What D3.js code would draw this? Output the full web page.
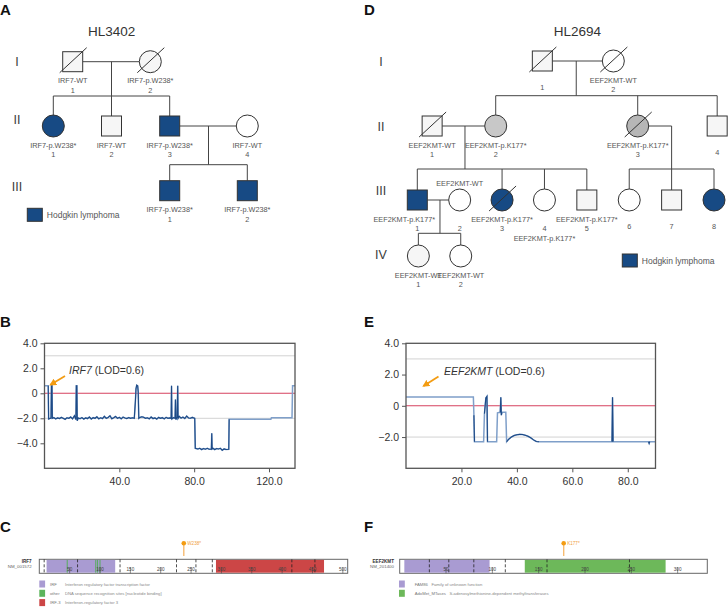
<!DOCTYPE html>
<html><head><meta charset="utf-8">
<script src="https://cdn.jsdelivr.net/npm/d3@7"></script>
<style>body{margin:0;background:#fff}svg{display:block;font-family:"Liberation Sans",Arial,Helvetica,sans-serif}</style>
</head><body><svg id="c" width="728" height="607"></svg>
<script>
// ---------------- DATA ----------------
const famA_title = "HL3402";
const famA_people = [
  {id:"I-1", gen:"I", col:1, sex:"M", status:"unaffected", dead:true, geno:"IRF7-WT", num:"1"},
  {id:"I-2", gen:"I", col:5, sex:"F", status:"unaffected", dead:true, geno:"IRF7-p.W238*", num:"2"},
  {id:"II-1", gen:"II", col:0, sex:"F", status:"affected", dead:false, geno:"IRF7-p.W238*", num:"1"},
  {id:"II-2", gen:"II", col:3, sex:"M", status:"unaffected", dead:false, geno:"IRF7-WT", num:"2"},
  {id:"II-3", gen:"II", col:6, sex:"M", status:"affected", dead:false, geno:"IRF7-p.W238*", num:"3"},
  {id:"II-4", gen:"II", col:10, sex:"F", status:"unaffectedW", dead:false, geno:"IRF7-WT", num:"4"},
  {id:"III-1", gen:"III", col:6, sex:"M", status:"affected", dead:false, geno:"IRF7-p.W238*", num:"1"},
  {id:"III-2", gen:"III", col:10, sex:"M", status:"affected", dead:false, geno:"IRF7-p.W238*", num:"2"}
];
const famA_families = [
  {parents:["I-1","I-2"], dropCol:3, children:["II-1","II-2","II-3"]},
  {parents:["II-3","II-4"], dropCol:8, children:["III-1","III-2"]}
];
const famD_title = "HL2694";
const famD_people = [
  {id:"I-1", gen:"I", col:5.9, sex:"M", status:"unaffected", dead:true, geno:"", num:"1"},
  {id:"I-2", gen:"I", col:9.25, sex:"F", status:"unaffectedW", dead:true, geno:"EEF2KMT-WT", num:"2"},
  {id:"II-1", gen:"II", col:0.7, sex:"M", status:"unaffected", dead:true, geno:"EEF2KMT-WT", num:"1"},
  {id:"II-2", gen:"II", col:3.7, sex:"F", status:"carrier", dead:false, geno:"EEF2KMT-p.K177*", num:"2"},
  {id:"II-3", gen:"II", col:10.4, sex:"F", status:"carrier2", dead:true, geno:"EEF2KMT-p.K177*", num:"3"},
  {id:"II-4", gen:"II", col:14.15, sex:"M", status:"unaffected", dead:false, geno:"", num:"4"},
  {id:"III-1", gen:"III", col:0, sex:"M", status:"affected", dead:false, geno:"EEF2KMT-p.K177*", num:"1", place:"belowLeft"},
  {id:"III-2", gen:"III", col:2, sex:"F", status:"unaffectedW", dead:false, geno:"EEF2KMT-WT", num:"2", place:"above"},
  {id:"III-3", gen:"III", col:4, sex:"F", status:"affected", dead:true, geno:"EEF2KMT-p.K177*", num:"3"},
  {id:"III-4", gen:"III", col:6, sex:"F", status:"unaffectedW", dead:false, geno:"EEF2KMT-p.K177*", num:"4", place:"belowNum"},
  {id:"III-5", gen:"III", col:8, sex:"M", status:"unaffected", dead:false, geno:"EEF2KMT-p.K177*", num:"5"},
  {id:"III-6", gen:"III", col:10, sex:"F", status:"unaffectedW", dead:false, geno:"", num:"6"},
  {id:"III-7", gen:"III", col:12, sex:"M", status:"unaffected", dead:false, geno:"", num:"7"},
  {id:"III-8", gen:"III", col:14, sex:"F", status:"affected", dead:false, geno:"", num:"8"},
  {id:"IV-1", gen:"IV", col:0.05, sex:"F", status:"unaffected", dead:false, geno:"EEF2KMT-WT", num:"1"},
  {id:"IV-2", gen:"IV", col:2.05, sex:"F", status:"unaffectedW", dead:false, geno:"EEF2KMT-WT", num:"2"}
];
const famD_families = [
  {parents:["I-1","I-2"], dropCol:7.5, children:["II-2","II-3","II-4"]},
  {parents:["II-1","II-2"], dropCol:2.25, children:["III-1","III-3","III-4","III-5"]},
  {parents:["II-3"], dropCol:12, children:["III-6","III-7","III-8"]},
  {parents:["III-1","III-2"], dropCol:1.07, children:["IV-1","IV-2"]}
];
const legendLabel = "Hodgkin lymphoma";

// LOD score traces (cM, LOD)
const lodB_cM  = [0,2.0,2.2,3.5,3.7,4.0,4.2,5,6,7,8,9,10,11,12,13,14,15,16,16.8,17.0,17.3,17.5,18,19,20,21,22,23,24,25,26,27,28,29,30,31,32,33,34,35,36,37,38,39,40,41,42,43,44,45,46,47,48,48.6,48.9,49.3,49.8,50.1,50.4,51,52,53,54,55,56,57,58,59,60,61,62,63,64,65,66,67,67.7,67.9,68.1,69,69.8,70.0,70.2,70.9,71.2,71.4,72,73,74,75,76,77,78,79,80.3,80.6,82,83,84,85,86,87,88,89.2,89.4,89.6,90,91,92,93,94,95,96,97,98.5,98.7,121,121.3,132.3,132.6,133.9];
const lodB_val = [0.6,0.6,-2.05,-1.98,0.6,0.6,-2.0,-1.95,-2.05,-1.97,-2.02,-1.93,-2.0,-2.08,-1.96,-2.0,-1.9,-2.04,-1.8,-2.1,0.6,0.6,-2.2,-1.98,-2.03,-1.94,-2.06,-1.97,-2.02,-1.9,-2.05,-1.95,-2.0,-1.88,-2.04,-1.96,-2.02,-1.85,-2.0,-1.93,-1.8,-2.03,-1.95,-1.85,-2.0,-1.92,-2.04,-1.9,-1.97,-2.02,-1.94,-2.0,-1.96,-2.0,-0.6,0.35,0.65,0.6,0.1,-2.0,-1.93,-1.88,-1.92,-2.0,-1.96,-2.04,-1.9,-2.02,-1.97,-2.06,-1.93,-2.0,-1.95,-2.05,-1.92,-2.0,-1.97,-2.0,0.6,-2.05,-1.95,-2.0,-0.5,-2.1,-1.9,0.6,-2.0,-1.85,-1.98,-1.9,-2.02,-1.82,-1.97,-2.0,-1.93,-2.0,-4.4,-4.45,-4.4,-4.5,-4.42,-4.47,-4.4,-4.48,-4.45,-3.2,-4.45,-4.4,-4.5,-4.42,-4.45,-4.4,-4.55,-4.45,-4.5,-4.48,-2.08,-2.08,-1.95,-1.95,0.6,0.6];
const lodE_cM  = [0,24.3,24.5,24.7,28,28.3,28.8,29.2,29.4,32.7,33,34,34.2,34.4,34.6,36,36.3,37,38,39,40,41,42,43,44,45,46,47,48,74.3,74.5,74.7,87.5,87.7,87.9,90];
const lodE_val = [0.57,0.57,-0.6,-2.3,-2.3,-0.5,0.5,0.6,-2.3,-2.3,-0.45,-0.42,0.55,-0.6,-0.42,-0.42,-2.3,-2.15,-2.0,-1.9,-1.85,-1.83,-1.84,-1.88,-1.95,-2.05,-2.18,-2.28,-2.3,-2.3,0.55,-2.3,-2.3,-2.4,-2.3,-2.3];
const yTicksB = [4,2,0,-2,-4];
const xTicksB = [40,80,120];
const yTicksE = [4,2,0,-2];
const xTicksE = [20,40,60,80];
const thresholds = [3,-2];
const geneB = "IRF7", geneE = "EEF2KMT", lodText = " (LOD=0.6)";

// Protein lollipop data
const protC = {gene:"IRF7", tx:"NM_001572", length:508, mut:238, mutLabel:"W238*"};
const protC_domains = [{name:"IRF", start:12, end:125}, {name:"IRF-3", start:291, end:469}];
const protC_sites = [46, 93, 96, 100];
const protC_exons = [8, 63, 133, 226, 258, 285, 416, 454];
const protC_ticks = [50,100,150,200,250,300,350,400,450,500];
const protC_legend = [["IRF","Interferon regulatory factor transcription factor"],["other","DNA sequence recognition sites [nucleotide binding]"],["IRF-3","Interferon-regulatory factor 3"]];
const protF = {gene:"EEF2KMT", tx:"NM_201400", length:332, mut:177, mutLabel:"K177*"};
const protF_domains = [{name:"FAM86", start:5, end:97}, {name:"AdoMet_MTases", start:135, end:287}];
const protF_exons = [32, 53, 80, 114, 159, 248];
const protF_ticks = [50,100,150,200,250,300];
const protF_legend = [["FAM86","Family of unknown function"],["AdoMet_MTases","S-adenosylmethionine-dependent methyltransferases"]];

// ---------------- DRAW ----------------
const svg = d3.select("#c");
const BLUE = "#174a84";
const fills = {affected:BLUE, carrier:"#c8c8c8", carrier2:"#b6b6b6", unaffected:"#f6f6f6", unaffectedW:"#ffffff"};

function panelLetter(t,x,y){ svg.append("text").attr("x",x).attr("y",y).attr("font-size",15).attr("font-weight","bold").attr("fill","#111").text(t); }
panelLetter("A",0,15); panelLetter("D",364,15);
panelLetter("B",0,327); panelLetter("E",364,327);
panelLetter("C",0,532); panelLetter("F",364,532);

function drawPedigree(people, families, xs, gy, sibY, title, titleX, romanX, legendPos, romanShift){
  const g = svg.append("g");
  const byId = new Map(people.map(p=>[p.id,p]));
  const half = p => p.sex==="M" ? 10 : 11;
  g.append("text").attr("x",titleX).attr("y",36).attr("text-anchor","middle").attr("font-size",13.5).attr("fill","#333").text(title);
  const gens = Array.from(new Set(people.map(p=>p.gen)));
  gens.forEach(gn=>{
    g.append("text").attr("x",romanX).attr("y",gy(gn)+4.5+(romanShift[gn]||0)).attr("text-anchor","middle")
      .attr("font-size",12.5).attr("fill","#3a3a3a").text(gn);
  });
  const L = g.append("g").attr("stroke","#444").attr("stroke-width",1).attr("fill","none");
  families.forEach(f=>{
    const ps = f.parents.map(id=>byId.get(id)).sort((a,b)=>a.col-b.col);
    const py = gy(ps[0].gen);
    const dx = xs(f.dropCol);
    if(ps.length===2){
      L.append("line").attr("x1",xs(ps[0].col)+half(ps[0])).attr("x2",xs(ps[1].col)-half(ps[1])).attr("y1",py).attr("y2",py);
    } else {
      L.append("line").attr("x1",xs(ps[0].col)+half(ps[0])).attr("x2",dx).attr("y1",py).attr("y2",py);
    }
    const kids = f.children.map(id=>byId.get(id));
    const sy = sibY(kids[0].gen);
    L.append("line").attr("x1",dx).attr("x2",dx).attr("y1",py).attr("y2",sy);
    const xsK = kids.map(k=>xs(k.col)).concat([dx]);
    L.append("line").attr("x1",d3.min(xsK)).attr("x2",d3.max(xsK)).attr("y1",sy).attr("y2",sy);
    kids.forEach(k=>{
      L.append("line").attr("x1",xs(k.col)).attr("x2",xs(k.col)).attr("y1",sy).attr("y2",gy(k.gen)-half(k));
    });
  });
  const S = g.append("g");
  people.forEach(p=>{
    const cx = xs(p.col), cy = gy(p.gen);
    if(p.sex==="M"){
      S.append("rect").attr("x",cx-10).attr("y",cy-10).attr("width",20).attr("height",20)
        .attr("fill",fills[p.status]).attr("stroke","#333").attr("stroke-width",1);
    } else {
      S.append("circle").attr("cx",cx).attr("cy",cy).attr("r",11)
        .attr("fill",fills[p.status]).attr("stroke","#333").attr("stroke-width",1);
    }
    if(p.dead){
      S.append("line").attr("x1",cx-13).attr("y1",cy+11).attr("x2",cx+14).attr("y2",cy-14).attr("stroke","#333").attr("stroke-width",1);
    }
    const T = S.append("g").attr("font-size",7.3).attr("fill","#555").attr("text-anchor","middle");
    let gx = cx, gyy = cy+21.5, ny = cy+31;
    if(p.place==="above"){ gyy = cy-14.5; }
    if(p.place==="belowLeft"){ gx = cx-13; }
    if(p.place==="belowNum"){ gyy = cy+41; }
    if(!p.geno){ ny = cy+29; }
    if(p.geno) T.append("text").attr("x",gx).attr("y",gyy).text(p.geno);
    T.append("text").attr("x",cx).attr("y",ny).text(p.num);
  });
  g.append("rect").attr("x",legendPos[0]).attr("y",legendPos[1]).attr("width",15).attr("height",13)
    .attr("fill",BLUE).attr("stroke","#333").attr("stroke-width",1);
  g.append("text").attr("x",legendPos[0]+19.5).attr("y",legendPos[1]+9.5).attr("font-size",8.5).attr("fill","#555").text(legendLabel);
}

// Pedigree A
{
  const xs = d3.scaleLinear().domain([0,10]).range([53.3,247.3]);
  const gy = d3.scaleOrdinal().domain(["I","II","III"]).range([61.7,126,190.7]);
  const sib = d3.scaleOrdinal().domain(["II","III"]).range([96,164.7]);
  drawPedigree(famA_people, famA_families, xs, gy, sib, famA_title, 111.7, 17, [27.3,208.3], {II:-6.5, III:-4});
}
// Pedigree D
{
  const xs = d3.scaleLinear().domain([0,14]).range([417.3,714]);
  const gy = d3.scaleOrdinal().domain(["I","II","III","IV"]).range([61,126,200,256]);
  const sib = d3.scaleOrdinal().domain(["II","III","IV"]).range([95.7,169,233.3]);
  drawPedigree(famD_people, famD_families, xs, gy, sib, famD_title, 577.3, 381, [622.3,254], {III:-10, IV:-2});
}

// Arrow marker
svg.append("defs").append("marker").attr("id","arr").attr("viewBox","0 0 10 10").attr("refX",8).attr("refY",5)
  .attr("markerWidth",4).attr("markerHeight",4).attr("orient","auto")
  .append("path").attr("d","M0,0L10,5L0,10z").attr("fill","#f39c12");

function lodChart(cm, val, xDom, xRange, yDom, yTicks, xTicks, gene, arrow, labelPos, darkRanges){
  const g = svg.append("g");
  const x = d3.scaleLinear().domain(xDom).range(xRange);
  const y = d3.scaleLinear().domain(yDom).range([468.3,343.3]);
  const fmt = d => d===0 ? "0" : d3.format(".1f")(d);
  thresholds.forEach(t=>{
    g.append("line").attr("x1",xRange[0]).attr("x2",xRange[1]).attr("y1",y(t)).attr("y2",y(t)).attr("stroke","#d2d2d2").attr("stroke-width",1);
  });
  g.append("line").attr("x1",xRange[0]).attr("x2",xRange[1]).attr("y1",y(0)).attr("y2",y(0)).attr("stroke","#d6425f").attr("stroke-width",1.1);
  const pts = cm.map((c,i)=>[c,val[i]]);
  const line = d3.line().x(d=>x(d[0])).y(d=>y(d[1]));
  g.append("path").attr("d",line(pts)).attr("fill","none").attr("stroke","#7f9fc9").attr("stroke-width",1.5);
  darkRanges.forEach(r=>{
    const sub = pts.filter(d=>d[0]>=r[0] && d[0]<=r[1]);
    g.append("path").attr("d",line(sub)).attr("fill","none").attr("stroke","#1d4a86").attr("stroke-width",1.1);
  });
  g.append("rect").attr("x",xRange[0]).attr("y",343.3).attr("width",xRange[1]-xRange[0]).attr("height",125)
    .attr("fill","none").attr("stroke","#555").attr("stroke-width",1.3);
  const ya = g.append("g").attr("transform",`translate(${xRange[0]},0)`)
    .call(d3.axisLeft(y).tickValues(yTicks).tickSize(4).tickPadding(3).tickFormat(fmt));
  const xa = g.append("g").attr("transform",`translate(0,468.3)`)
    .call(d3.axisBottom(x).tickValues(xTicks).tickSize(4).tickPadding(5).tickFormat(d3.format(".1f")));
  [ya,xa].forEach(a=>{
    a.select(".domain").remove();
    a.selectAll("line").attr("stroke","#555");
    a.selectAll("text").attr("font-size",10.5).attr("fill","#333").attr("font-family","'Liberation Sans',Arial,sans-serif");
  });
  g.append("line").attr("x1",arrow[0]).attr("y1",arrow[1]).attr("x2",arrow[2]).attr("y2",arrow[3])
    .attr("stroke","#f39c12").attr("stroke-width",1.8).attr("marker-end","url(#arr)");
  const t = g.append("text").attr("x",labelPos[0]).attr("y",labelPos[1]).attr("font-size",10.5).attr("fill","#333");
  t.append("tspan").attr("font-style","italic").text(gene);
  t.append("tspan").text(lodText);
}
lodChart(lodB_cM, lodB_val, [0,133.9], [44.5,295], [-6,4], yTicksB, xTicksB, geneB, [65,376,50.5,384.8], [69,374], [[2,98.7]]);
lodChart(lodE_cM, lodE_val, [0,90], [406,655.5], [-4,4], yTicksE, xTicksE, geneE, [438.5,376.5,423.5,386], [444,375], [[24.4,24.7],[28.3,29.4],[33.8,34.6],[36.3,48],[74.3,74.7],[87.5,87.9]]);

function protein(p, domains, sites, exons, ticks, legend, colors, range, labelX, legendX, nameX, descX){
  const g = svg.append("g");
  const x = d3.scaleLinear().domain([0,p.length]).range(range);
  const y0 = 559.3, h = 14;
  g.append("rect").attr("x",range[0]).attr("y",y0).attr("width",range[1]-range[0]).attr("height",h)
    .attr("fill","#fff").attr("stroke","#666").attr("stroke-width",1);
  domains.forEach((d,i)=>{
    g.append("rect").attr("x",x(d.start)).attr("y",y0+0.6).attr("width",x(d.end)-x(d.start)).attr("height",h-1.2).attr("fill",colors[d.name]);
  });
  sites.forEach(s=>{
    g.append("line").attr("x1",x(s)).attr("x2",x(s)).attr("y1",y0+0.6).attr("y2",y0+h-0.6).attr("stroke","#4caf50").attr("stroke-width",0.9);
  });
  exons.forEach(e=>{
    g.append("line").attr("x1",x(e)).attr("x2",x(e)).attr("y1",y0).attr("y2",y0+h).attr("stroke","#222").attr("stroke-width",0.8).attr("stroke-dasharray","3,2");
  });
  ticks.forEach(t=>{
    g.append("line").attr("x1",x(t)).attr("x2",x(t)).attr("y1",y0+h-6).attr("y2",y0+h).attr("stroke","#444").attr("stroke-width",0.6);
    g.append("text").attr("x",x(t)).attr("y",y0+11.5).attr("text-anchor","middle").attr("font-size",4.6).attr("fill","#444").text(t);
  });
  g.append("text").attr("x",labelX).attr("y",562.5).attr("text-anchor","end").attr("font-size",4.6).attr("font-weight","bold").attr("fill","#333").text(p.gene);
  g.append("text").attr("x",labelX).attr("y",568).attr("text-anchor","end").attr("font-size",4.4).attr("fill","#666").text(p.tx);
  const mx = x(p.mut);
  g.append("line").attr("x1",mx).attr("x2",mx).attr("y1",545).attr("y2",556).attr("stroke","#f7bc72").attr("stroke-width",1.4);
  g.append("circle").attr("cx",mx).attr("cy",543.3).attr("r",2.3).attr("fill","#f39c12");
  g.append("text").attr("x",mx+3.5).attr("y",545).attr("font-size",4.6).attr("fill","#f0a040").text(p.mutLabel);
  legend.forEach((l,i)=>{
    const ly = 580.5 + i*9.3;
    g.append("rect").attr("x",legendX).attr("y",ly).attr("width",5.8).attr("height",7).attr("fill",colors[l[0]]);
    const nm = g.append("text").attr("x",nameX).attr("y",ly+5).attr("font-size",4.2).attr("fill","#777").text(l[0]);
    const dxp = descX !== null ? descX : nameX + nm.node().getComputedTextLength() + 3.5;
    g.append("text").attr("x",dxp).attr("y",ly+5).attr("font-size",4.2).attr("fill","#888").text(l[1]);
  });
}
protein(protC, protC_domains, protC_sites, protC_exons, protC_ticks, protC_legend,
  {"IRF":"#a99bd2","other":"#5cb55c","IRF-3":"#cc4646"}, [39.3,347.7], 31.7, 39.3, 50, 65);
protein(protF, protF_domains, [], protF_exons, protF_ticks, protF_legend,
  {"FAM86":"#a99bd2","AdoMet_MTases":"#6db85a"}, [399.7,707.3], 394, 399, 414.7, null);
</script></body></html>
